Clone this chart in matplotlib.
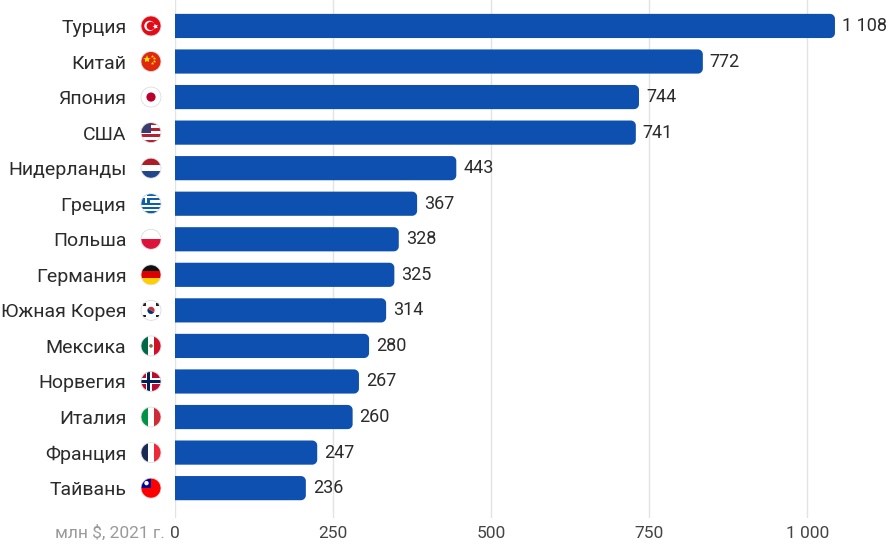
import numpy as np
import matplotlib.pyplot as plt
from matplotlib.patches import Circle, Rectangle, Polygon, Wedge

plt.rcParams['font.family'] = ['Roboto', 'DejaVu Sans']

countries = ["Турция", "Китай", "Япония", "США", "Нидерланды", "Греция", "Польша",
             "Германия", "Южная Корея", "Мексика", "Норвегия", "Италия", "Франция", "Тайвань"]
flags = ["tr", "cn", "jp", "us", "nl", "gr", "pl", "de", "kr", "mx", "no", "it", "fr", "tw"]
# values printed next to the bars
values = [1108, 772, 744, 741, 443, 367, 328, 325, 314, 280, 267, 260, 247, 236]
# bar lengths as drawn in the source picture
bar_len = [1044, 835, 734, 729, 445, 383, 354, 347, 334, 307, 291, 281, 225, 207]
x_ticks = [0, 250, 500, 750, 1000]
x_tick_labels = ["0", "250", "500", "750", "1 000"]
unit_label = "млн $, 2021 г."

BLUE = '#0d50b0'
W, H = 886, 546

fig = plt.figure(figsize=(W / 100, H / 100), dpi=100)
ax = fig.add_axes([175 / W, 28 / H, 708 / W, 518 / H])

n = len(countries)
ax.set_xlim(0, 1120)
ax.set_ylim(n - 1 + 0.84, -0.73)

bh = 0.68
rad_px = 5
rx = rad_px * 1120 / 708
ry = rad_px * (n - 1 + 0.84 + 0.73) / 518


def bar_shape(y, L):
    # square left end, rounded right end
    top, bot = y - bh / 2, y + bh / 2
    a = np.linspace(0, np.pi / 2, 12)
    pts = [(0, top)]
    pts += [(L - rx + rx * np.sin(t), top + ry - ry * np.cos(t)) for t in a]
    pts += [(L - rx + rx * np.cos(t), bot - ry + ry * np.sin(t)) for t in a]
    pts += [(0, bot)]
    return pts


for i, L in enumerate(bar_len):
    ax.add_patch(Polygon(bar_shape(i, L), closed=True, fc=BLUE, ec='none', zorder=3))

for i, v in enumerate(values):
    s = "{:,}".format(v).replace(",", " ")
    ax.annotate(s, xy=(bar_len[i], i), xytext=(5, 0), textcoords='offset points',
                ha='left', va='center', fontsize=13, color='#2b2b2b', zorder=4)

for t in x_ticks:
    ax.axvline(t, color='#e3e3e3', lw=1, zorder=1)

ax.set_xticks(x_ticks)
ax.set_xticklabels(x_tick_labels, fontsize=12.5, color='#444444')
ax.set_yticks(range(n))
ax.set_yticklabels(countries, fontsize=14, color='#2b2b2b')
ax.tick_params(axis='x', length=0, pad=6)
ax.tick_params(axis='y', length=0, pad=35)
for sp in ax.spines.values():
    sp.set_visible(False)

ax.annotate(unit_label, xy=(0, 0), xycoords=('data', 'axes fraction'),
            xytext=(-10, -15), textcoords='offset pixels',
            ha='right', va='center', fontsize=12.5, color='#9a9a9a')

# overlay in pixel coordinates for the round flags
fa = fig.add_axes([0, 0, 1, 1])
fa.set_xlim(0, W)
fa.set_ylim(0, H)
fa.axis('off')


def rect(x0, y0, w, h, c, clip):
    r = Rectangle((x0, y0), w, h, fc=c, ec='none')
    fa.add_patch(r)
    r.set_clip_path(clip)


def draw_flag(code, cx, cy, r):
    clip = Circle((cx, cy), r, transform=fa.transData)
    x0, y0, d = cx - r, cy - r, 2 * r
    if code == "tr":
        rect(x0, y0, d, d, '#e30a17', clip)
        fa.add_patch(Circle((cx - 1.5, cy), 5.2, fc='white', ec='none'))
        fa.add_patch(Circle((cx - 0.2, cy), 4.2, fc='#e30a17', ec='none'))
        fa.plot([cx + 4.2], [cy], marker=(5, 1, 90), ms=4, color='white', mew=0)
    elif code == "cn":
        rect(x0, y0, d, d, '#de2910', clip)
        fa.plot([cx - 3.5], [cy + 3], marker='*', ms=6, color='#ffde00', mew=0)
        for dx, dy in [(1.5, 6), (3.5, 4), (3.5, 1), (1.5, -1)]:
            fa.plot([cx + dx], [cy + dy], marker='*', ms=2.5, color='#ffde00', mew=0)
    elif code == "jp":
        rect(x0, y0, d, d, 'white', clip)
        fa.add_patch(Circle((cx, cy), 4.6, fc='#bc002d', ec='none'))
    elif code == "us":
        for k in range(7):
            rect(x0, y0 + k * d / 7, d, d / 7, '#b22234' if k % 2 == 0 else 'white', clip)
        rect(x0, cy, r * 1.05, r, '#3c3b6e', clip)
    elif code == "nl":
        rect(x0, y0, d, d / 3, '#21468b', clip)
        rect(x0, y0 + d / 3, d, d / 3, 'white', clip)
        rect(x0, y0 + 2 * d / 3, d, d / 3, '#ae1c28', clip)
    elif code == "gr":
        for k in range(9):
            rect(x0, y0 + k * d / 9, d, d / 9, '#0d5eaf' if k % 2 == 0 else 'white', clip)
        rect(x0, cy + d / 18, r * 0.95, r, '#0d5eaf', clip)
        rect(x0, cy + 3 * d / 9 - d / 18 + 0.3, r * 0.95, d / 9, 'white', clip)
        rect(x0 + r * 0.95 / 2 - 1.1, cy + d / 18, 2.2, r, 'white', clip)
    elif code == "pl":
        rect(x0, y0, d, r, '#dc143c', clip)
        rect(x0, cy, d, r, 'white', clip)
    elif code == "de":
        rect(x0, y0, d, d / 3, '#ffce00', clip)
        rect(x0, y0 + d / 3, d, d / 3, '#dd0000', clip)
        rect(x0, y0 + 2 * d / 3, d, d / 3, '#111111', clip)
    elif code == "kr":
        rect(x0, y0, d, d, 'white', clip)
        fa.add_patch(Wedge((cx, cy), 3.6, 150, 330, fc='#003478', ec='none'))
        fa.add_patch(Wedge((cx, cy), 3.6, -30, 150, fc='#cd2e3a', ec='none'))
        for sx, sy in [(-1, 1), (1, 1), (-1, -1), (1, -1)]:
            fa.add_patch(Rectangle((cx + sx * 6.3 - 1.2, cy + sy * 5.8 - 1.2), 2.4, 2.4,
                                   fc='#222222', ec='none'))
    elif code == "mx":
        rect(x0, y0, d / 3, d, '#006847', clip)
        rect(x0 + d / 3, y0, d / 3, d, 'white', clip)
        rect(x0 + 2 * d / 3, y0, d / 3, d, '#ce1126', clip)
        fa.add_patch(Circle((cx, cy), 1.8, fc='#8c6a2f', ec='none'))
    elif code == "no":
        rect(x0, y0, d, d, '#ba0c2f', clip)
        rect(x0, cy - 3, d, 6, 'white', clip)
        rect(cx - 5, y0, 6, d, 'white', clip)
        rect(x0, cy - 1.5, d, 3, '#00205b', clip)
        rect(cx - 3.5, y0, 3, d, '#00205b', clip)
    elif code == "it":
        rect(x0, y0, d / 3, d, '#009246', clip)
        rect(x0 + d / 3, y0, d / 3, d, 'white', clip)
        rect(x0 + 2 * d / 3, y0, d / 3, d, '#ce2b37', clip)
    elif code == "fr":
        rect(x0, y0, d / 3, d, '#1b2a55', clip)
        rect(x0 + d / 3, y0, d / 3, d, 'white', clip)
        rect(x0 + 2 * d / 3, y0, d / 3, d, '#ed2939', clip)
    elif code == "tw":
        rect(x0, y0, d, d, '#fe0000', clip)
        rect(x0, cy, r * 1.05, r, '#000095', clip)
        fa.add_patch(Circle((x0 + r * 0.55, cy + r * 0.5), 2.2, fc='white', ec='none'))
    fa.add_patch(Circle((cx, cy), r, fc='none', ec='#dddddd', lw=0.6))


fig.canvas.draw()
for i, code in enumerate(flags):
    _, yd = ax.transData.transform((0, i))
    draw_flag(code, 151, yd, 10)

fig.savefig("out.png", dpi=100)
